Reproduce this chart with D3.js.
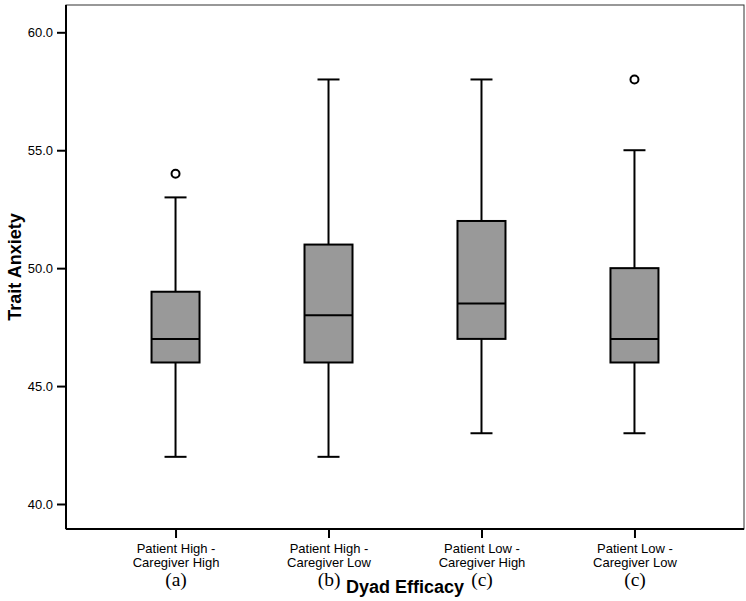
<!DOCTYPE html>
<html><head><meta charset="utf-8">
<script src="https://cdn.jsdelivr.net/npm/d3@7"></script>
<style>body{margin:0;background:#fff}svg{display:block}</style>
</head><body>
<script>
const categories = ["Patient High -\nCaregiver High","Patient High -\nCaregiver Low","Patient Low -\nCaregiver High","Patient Low -\nCaregiver Low"];
const groupLetters = ["(a)","(b)","(c)","(c)"];
const whiskerLow = [42,42,43,43];
const q1 = [46,46,47,46];
const median = [47,48,48.5,47];
const q3 = [49,51,52,50];
const whiskerHigh = [53,58,58,55];
const outliers = [[54],[],[],[58]];
const yTicks = [40,45,50,55,60];

const W=746,H=601;
const L=66,R=744,T=5,B=529;
const svg=d3.select("body").append("svg").attr("width",W).attr("height",H);
const x=d3.scalePoint().domain(d3.range(categories.length)).range([L,R]).padding(0.716);
const y=d3.scaleLinear().domain([40,60]).range([504,32.3]);

// frame
svg.append("rect").attr("x",L).attr("y",T).attr("width",R-L).attr("height",B-T).attr("fill","none").attr("stroke","#333").attr("stroke-width",1);

const yAxis=svg.append("g").attr("transform",`translate(${L},0)`)
 .call(d3.axisLeft(y).tickValues(yTicks).tickFormat(d3.format(".1f")).tickSize(9).tickPadding(4));
yAxis.select(".domain").attr("d",`M0,${T}V${B}`).attr("stroke","#000").attr("stroke-width",2);
yAxis.selectAll(".tick line").attr("stroke","#000").attr("stroke-width",2);
yAxis.selectAll(".tick text").attr("font-family","Liberation Sans, Arial, sans-serif").attr("font-size",13).attr("fill","#000");

const xAxis=svg.append("g").attr("transform",`translate(0,${B})`)
 .call(d3.axisBottom(x).tickSize(9).tickFormat(""));
xAxis.select(".domain").attr("d",`M${L},0H${R}`).attr("stroke","#000").attr("stroke-width",2);
xAxis.selectAll(".tick line").attr("stroke","#000").attr("stroke-width",2);
xAxis.selectAll(".tick").each(function(d){
  const g=d3.select(this);
  const lines=categories[d].split("\n");
  const t=g.append("text").attr("text-anchor","middle").attr("font-family","Liberation Sans, Arial, sans-serif").attr("font-size",13).attr("fill","#000");
  lines.forEach((s,i)=>t.append("tspan").attr("x",0).attr("y",24+i*13.5).text(s));
  g.append("text").attr("text-anchor","middle").attr("y",57).attr("font-family","Liberation Serif, Times New Roman, serif").attr("font-size",19.5).attr("fill","#000").text(groupLetters[d]);
});

const boxW=48, capW=22;
const gB=svg.append("g");
categories.forEach((c,i)=>{
  const cx=x(i);
  gB.append("line").attr("x1",cx).attr("x2",cx).attr("y1",y(whiskerLow[i])).attr("y2",y(q1[i])).attr("stroke","#000").attr("stroke-width",2);
  gB.append("line").attr("x1",cx).attr("x2",cx).attr("y1",y(q3[i])).attr("y2",y(whiskerHigh[i])).attr("stroke","#000").attr("stroke-width",2);
  [whiskerLow[i],whiskerHigh[i]].forEach(v=>gB.append("line").attr("x1",cx-capW/2).attr("x2",cx+capW/2).attr("y1",y(v)).attr("y2",y(v)).attr("stroke","#000").attr("stroke-width",2));
  gB.append("rect").attr("x",cx-boxW/2).attr("y",y(q3[i])).attr("width",boxW).attr("height",y(q1[i])-y(q3[i])).attr("fill","#999999").attr("stroke","#000").attr("stroke-width",2);
  gB.append("line").attr("x1",cx-boxW/2).attr("x2",cx+boxW/2).attr("y1",y(median[i])).attr("y2",y(median[i])).attr("stroke","#000").attr("stroke-width",2);
  outliers[i].forEach(v=>gB.append("circle").attr("cx",cx).attr("cy",y(v)).attr("r",4).attr("fill","#fff").attr("stroke","#000").attr("stroke-width",2));
});

svg.append("text").attr("x",(L+R)/2).attr("y",593).attr("text-anchor","middle").attr("font-family","Liberation Sans, Arial, sans-serif").attr("font-weight","bold").attr("font-size",18).attr("fill","#000").text("Dyad Efficacy");
svg.append("text").attr("transform",`translate(21,${(T+B)/2}) rotate(-90)`).attr("text-anchor","middle").attr("font-family","Liberation Sans, Arial, sans-serif").attr("font-weight","bold").attr("font-size",18).attr("fill","#000").text("Trait Anxiety");
</script>
</body></html>
